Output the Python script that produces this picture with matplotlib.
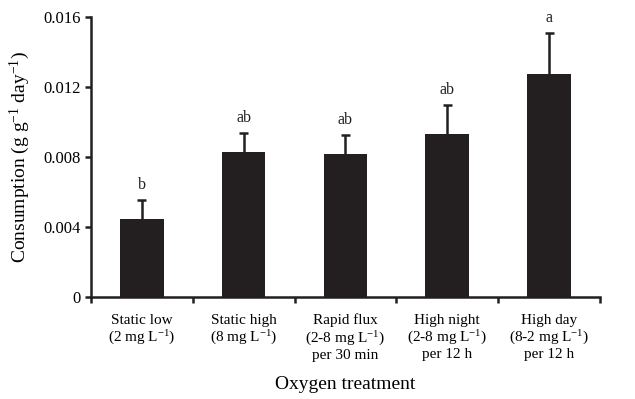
import numpy as np
import matplotlib as mpl
mpl.use('Agg')
import matplotlib.pyplot as plt

plt.rcParams['font.family'] = ['Liberation Serif', 'DejaVu Serif']
plt.rcParams['mathtext.fontset'] = 'custom'
plt.rcParams['mathtext.rm'] = 'Liberation Serif'
plt.rcParams['mathtext.it'] = 'Liberation Serif:italic'

categories = ['Static low\n(2 mg L$^{-1}$)',
              'Static high\n(8 mg L$^{-1}$)',
              'Rapid flux\n(2-8 mg L$^{-1}$)\nper 30 min',
              'High night\n(2-8 mg L$^{-1}$)\nper 12 h',
              'High day\n(8-2 mg L$^{-1}$)\nper 12 h']
consumption = [0.00446, 0.00829, 0.00817, 0.00931, 0.01274]
err_upper = [0.00108, 0.00108, 0.00109, 0.00166, 0.00235]
letters = ['b', 'ab', 'ab', 'ab', 'a']
yticks = [0, 0.004, 0.008, 0.012, 0.016]
ytick_labels = ['0', '0.004', '0.008', '0.012', '0.016']

fig = plt.figure(figsize=(6.35, 3.99), dpi=100)
ax = fig.add_axes([0.143, 0.256, 0.802, 0.701])

x = np.arange(len(consumption))
vals = np.array(consumption)
tops = vals + np.array(err_upper)
bar_col = '#231f20'
ax.bar(x, vals, width=0.43, color=bar_col, zorder=2)
# upper error only: stem + cap
ax.vlines(x, vals, tops, color=bar_col, linewidth=1.8, zorder=1)
ax.hlines(tops, x - 0.045, x + 0.045, color=bar_col, linewidth=1.8, zorder=1)

for i in range(len(x)):
    ax.text(x[i], tops[i] + 0.0004, letters[i],
            ha='center', va='bottom', fontsize=11.5, color='#231f20')

ax.set_xlim(-0.5, len(x) - 0.5)
ax.set_ylim(0, 0.016)
ax.set_yticks(yticks)
ax.set_yticklabels(ytick_labels, fontsize=12)

ax.set_xticks(np.arange(-0.5, len(x), 1.0))
ax.set_xticklabels([])
ax.set_xticks(x, minor=True)
ax.set_xticklabels(categories, minor=True, fontsize=11, linespacing=1.15)
ax.tick_params(axis='x', which='minor', length=0, pad=12)
ax.tick_params(axis='both', which='major', direction='out', length=4, width=1.8,
               color='#231f20')
ax.tick_params(axis='y', pad=3)

for s in ['top', 'right']:
    ax.spines[s].set_visible(False)
for s in ['left', 'bottom']:
    ax.spines[s].set_linewidth(1.8)
    ax.spines[s].set_color('#231f20')

ax.set_ylabel('Consumption (g g$^{-1}$ day$^{-1}$)', fontsize=14, labelpad=8)
ax.set_xlabel('Oxygen treatment', fontsize=14, labelpad=10)

fig.savefig('out.png', dpi=100)
